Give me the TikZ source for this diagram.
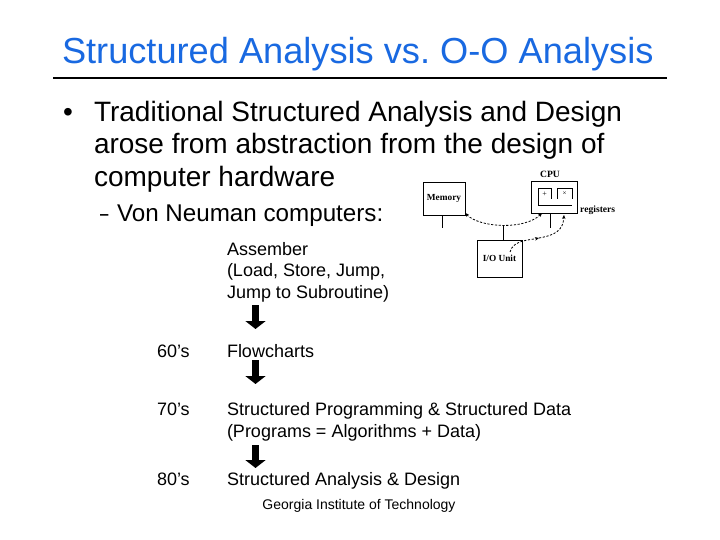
\documentclass[tikz,border=0pt]{standalone}
\usepackage{fontspec}
\usepackage{graphicx}
\setmainfont{Liberation Sans}
\newfontfamily\hwfont{Liberation Serif}
\usetikzlibrary{arrows.meta}
\definecolor{titleblue}{RGB}{25,105,225}
\frenchspacing
\begin{document}
\begin{tikzpicture}[x=1bp,y=-1bp,
  txt/.style={anchor=base west,inner sep=0pt,outer sep=0pt},
  titletxt/.style={txt,text=titleblue,font=\fontsize{36.2bp}{40bp}\selectfont},
  bigtxt/.style={txt,font=\fontsize{28bp}{32bp}\selectfont},
  midtxt/.style={txt,font=\fontsize{24.2bp}{27bp}\selectfont},
  smalltxt/.style={txt,font=\fontsize{18bp}{21bp}\selectfont},
  foot/.style={anchor=base,inner sep=0pt,font=\fontsize{14bp}{16bp}\selectfont},
  hwbox/.style={draw,line width=0.8bp,inner sep=0pt,font=\hwfont\bfseries\fontsize{9.3bp}{10bp}\selectfont},
  hwlabel/.style={inner sep=0pt,font=\hwfont\bfseries\fontsize{9.6bp}{10bp}\selectfont},
  hwline/.style={line width=0.8bp},
  busarrow/.style={line width=0.8bp,dash pattern=on 2.2bp off 1.6bp,-{Stealth[length=4bp,width=3.5bp]}},
  thickdown/.style={line width=7bp,-{Triangle[width=20bp,length=8bp]}}
]
\useasboundingbox (0,0) rectangle (720,540);
\fill[white] (0,0) rectangle (720,540);

% title
\node[titletxt] (title) at (62,64) {Structured Analysis vs. O-O Analysis};
\coordinate (ruleL) at (53,78);
\coordinate (ruleR) at (667,78);
\draw[line width=2.6bp] (ruleL) -- (ruleR);

% bullet text
\node[bigtxt] (bul) at (63,122) {•};
\node[bigtxt] (b1) at (94,122) {Traditional Structured Analysis and Design};
\node[bigtxt] (b2) at (94,154) {arose from abstraction from the design of};
\node[bigtxt] (b3) at (94,187) {computer hardware};
\node[midtxt] (dash) at (100,222) {\scalebox{0.62}[1]{–}};
\node[midtxt] (vn) at (117,222) {Von Neuman computers:};

% hardware diagram
\node[hwbox,minimum width=42bp,minimum height=33bp] (mem) at (444,198.5) {Memory};
\node[hwbox,minimum width=46bp,minimum height=32bp] (cpu) at (554,197) {};
\node[hwlabel] (cpul) at (550,174) {CPU};
\node[hwbox,minimum width=45bp,minimum height=37bp] (io) at (499.5,258.5) {I/O Unit};
\node[hwlabel,anchor=base west] (regl) at (580,213) {registers};
% registers
\draw[hwline] (551,199) -- (551,188) -- (538,188) -- (538,205) -- (572,205);
\draw[hwline] (557,199) -- (557,188) -- (572,188) -- (572,199);
\node[hwlabel,font=\hwfont\fontsize{8bp}{9bp}\selectfont] (plus) at (544.5,194) {+};
\node[hwlabel,font=\hwfont\fontsize{7bp}{8bp}\selectfont] (times) at (564.5,193.5) {×};
% legs
\coordinate (memleg) at (442,228);
\coordinate (cpuleg) at (550,228);
\coordinate (ioleg) at (503,225);
\draw[hwline] (mem.south -| memleg) -- (memleg);
\draw[hwline] (cpu.south -| cpuleg) -- (cpuleg);
\draw[hwline] (io.north -| ioleg) -- (ioleg);
% dashed transfers
\coordinate (memin) at (465,213);
\coordinate (cpuin) at (542,213);
\draw[busarrow,{Stealth[length=4bp,width=3.5bp]}-{Stealth[length=4bp,width=3.5bp]}]
  (memin) .. controls (480,228) and (525,230) .. (cpuin);
\coordinate (iostart) at (510,252);
\coordinate (regin) at (564,215);
\draw[busarrow] (iostart) .. controls (513,240) and (530,240) .. (539,238);
\draw[busarrow] (539,238) .. controls (556,235) and (563,230) .. (regin);

% evolution text
\node[smalltxt] (asm1) at (227,256) {Assember};
\node[smalltxt] (asm2) at (227,277) {(Load, Store, Jump,};
\node[smalltxt] (asm3) at (227,298) {Jump to Subroutine)};
\node[smalltxt] (d60) at (157,357) {60’s};
\node[smalltxt] (flow) at (227,357) {Flowcharts};
\node[smalltxt] (d70) at (157,415) {70’s};
\node[smalltxt] (sp1) at (227,415) {Structured Programming \& Structured Data};
\node[smalltxt] (sp2) at (227,437) {(Programs = Algorithms + Data)};
\node[smalltxt] (d80) at (157,485) {80’s};
\node[smalltxt] (sad) at (227,485) {Structured Analysis \& Design};

\coordinate (a1s) at (255.5,305);
\coordinate (a1e) at (255.5,329);
\coordinate (a2s) at (255.5,360);
\coordinate (a2e) at (255.5,384);
\coordinate (a3s) at (255.5,445);
\coordinate (a3e) at (255.5,468);
\draw[thickdown] (a1s) -- (a1e);
\draw[thickdown] (a2s) -- (a2e);
\draw[thickdown] (a3s) -- (a3e);

\node[foot] (footer) at (359,509) {Georgia Institute of Technology};
\end{tikzpicture}
\end{document}
